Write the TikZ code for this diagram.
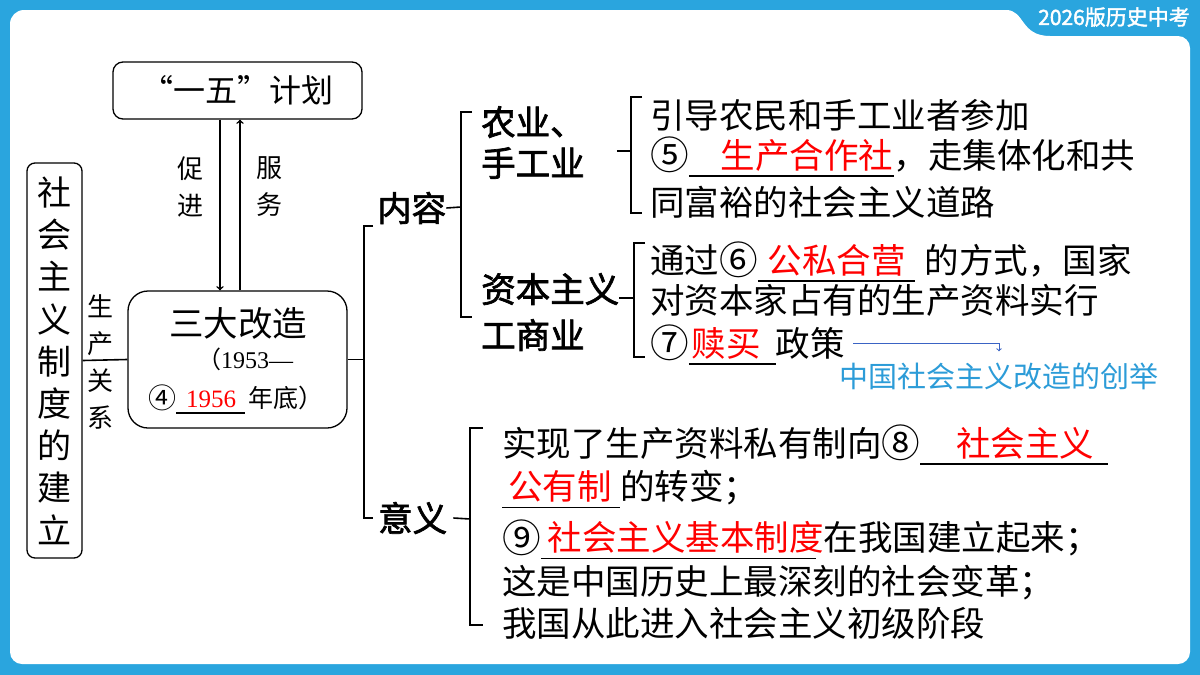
\documentclass[tikz,border=0pt]{standalone}
\usepackage{fontspec}
\setmainfont{Noto Sans CJK SC}
\newfontfamily\hei{Noto Sans CJK SC}[FakeBold=2]
\newfontfamily\tnr{Liberation Serif}
\usetikzlibrary{arrows,positioning}
\definecolor{frameblue}{HTML}{2AA5DE}
\definecolor{ansred}{HTML}{FF0000}
\definecolor{noteblue}{HTML}{2C9CD8}
\definecolor{arrblue}{HTML}{3A63C4}
\tikzstyle{box}=[draw, line width=1.3pt, rounded corners=10pt, inner sep=0]
\tikzstyle{ln}=[line width=1.6pt]
\tikzstyle{txt}=[anchor=west, inner sep=0, font=\fontsize{34.5}{41}\selectfont]
\tikzstyle{hd}=[anchor=west, inner sep=0, align=left, font=\fontsize{34.5}{41}\selectfont\hei]
\tikzstyle{lbl}=[inner sep=0, align=center, font=\fontsize{26}{37}\selectfont]
\tikzstyle{badge}=[inner sep=0, text=white, font=\fontsize{21}{24}\selectfont\hei]
\newcommand{\fillin}[3][0pt]{\rlap{\smash{\rule[-0.24em]{#2}{1.5pt}}}\makebox[#2][l]{\hspace*{#1}\color{ansred}#3}}
\newcommand{\cn}[1]{\raisebox{-0.04em}{\scalebox{1.12}{#1}}}

\begin{document}
\begin{tikzpicture}[x=1pt,y=-1pt]
\useasboundingbox (0,0) rectangle (1200,675);
\fill[frameblue] (0,0) rectangle (1200,675);
\fill[white,rounded corners=14pt] (10,664) -- (10,10) -- (992,10) [sharp corners]
  .. controls (1025,10) and (1020,36) .. (1050,36) [rounded corners=12pt] -- (1190,36) -- (1190,664) -- cycle;
\node[badge] (bd) at (1114,17) {2026版历史中考};

\node[box, rounded corners=8pt, minimum width=55pt, minimum height=395pt, align=center,
  font=\fontsize{34}{42.2}\selectfont] (zd) at (54.5,360.5) {社\\会\\主\\义\\制\\度\\的\\建\\立};
\node[box, minimum width=249pt, minimum height=57pt, font=\fontsize{32}{38}\selectfont] (yw) at (237.5,90.5) {“一五”计划};
\node[box, rounded corners=20pt, minimum width=219pt, minimum height=137pt] (gz) at (237.5,359.5) {};
\node[inner sep=0, font=\fontsize{34.5}{41}\selectfont] (sd) at (238,323) {三大改造};
\node[inner sep=0, font=\fontsize{24}{28}\selectfont] (nd) at (245,359) {（{\tnr 1953—}};
\node[txt, font=\fontsize{25}{30}\selectfont] (nd2) at (148,398) {\cn{④}\fillin[10pt]{69pt}{\tnr 1956}\hspace{3pt}年底）};

\draw[ln,->] ([xshift=-17.5pt]yw.south) -- ([xshift=-17.5pt]gz.north);
\draw[ln,->] ([xshift=2.5pt]gz.north) -- ([xshift=2.5pt]yw.south);
\node[lbl] (cj) at (190,187) {促\\进};
\node[lbl] (fw) at (269,187) {服\\务};
\node[lbl] (sc) at (100,362) {生\\产\\关\\系};
\draw[ln] (zd.east) -- (gz.west);

\coordinate (b1) at (364,359.5);
\draw[ln] (gz.east) -- (b1);
\draw[ln] (373,226) -- (364,226) -- (364,518) -- (373,518);
\node[hd] (nr) at (377,208) {内容};
\node[hd] (yy) at (378,518) {意义};

\coordinate (b2) at (461,207);
\draw[ln] (nr.east) -- (b2);
\draw[ln] (472,112) -- (461,112) -- (461,317) -- (472,317);
\node[hd] (ny) at (481,142.5) {农业、\\手工业};
\node[hd, font=\fontsize{34.5}{46}\selectfont\hei] (zb) at (481,312) {资本主义\\工商业};

\coordinate (b3) at (631,151);
\draw[ln] ([xshift=32pt]ny.east |- b3) -- (b3);
\draw[ln] (642,97) -- (631,97) -- (631,213) -- (642,213);
\node[txt] (t1) at (650,115) {引导农民和手工业者参加};
\node[txt] (t2) at (650,155) {\cn{⑤}\fillin[32pt]{205pt}{生产合作社}，走集体化和共};
\node[txt] (t3) at (650,202) {同富裕的社会主义道路};

\coordinate (b4) at (634,298);
\draw[ln] (zb.east |- b4) -- (b4);
\draw[ln] (645,243) -- (634,243) -- (634,357) -- (645,357);
\node[txt] (t4) at (650,260) {通过\cn{⑥}\fillin[10pt]{157pt}{公私合营}\hspace{10pt}的方式，国家};
\node[txt] (t5) at (650,300) {对资本家占有的生产资料实行};
\node[txt] (t6) at (650,343) {\cn{⑦}\fillin[3pt]{87pt}{赎买}政策};
\node[inner sep=0, text=noteblue, font=\fontsize{29}{34}\selectfont] (cx) at (999,376) {中国社会主义改造的创举};
\draw[arrblue, line width=1pt, ->] ([xshift=8pt]t6.east) -| ([yshift=11pt]cx.north);

\coordinate (b5) at (470,519);
\draw[ln] ([xshift=6pt]yy.east) -- (b5);
\draw[ln] (483,428) -- (470,428) -- (470,625) -- (483,625);
\node[txt] (c1) at (502,443) {实现了生产资料私有制向\cn{⑧}\fillin[36pt]{188pt}{社会主义}};
\node[txt] (c2) at (502,488) {\fillin[6pt]{118pt}{公有制}的转变；};
\node[txt] (c3) at (502,538) {\cn{⑨}\fillin[7pt]{275pt}{社会主义基本制度}\hspace{8pt}在我国建立起来；};
\node[txt] (c4) at (502,583) {这是中国历史上最深刻的社会变革；};
\node[txt] (c5) at (502,623) {我国从此进入社会主义初级阶段};
\end{tikzpicture}
\end{document}
